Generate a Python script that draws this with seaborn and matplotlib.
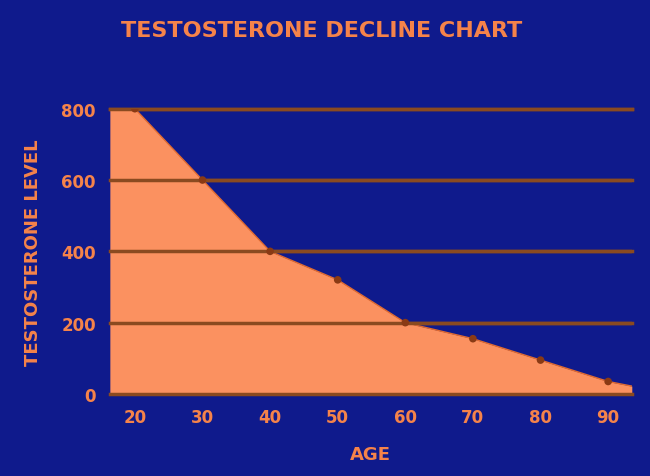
import matplotlib
matplotlib.use("Agg")
import matplotlib.pyplot as plt
import seaborn as sns
import pandas as pd

ages = [20, 30, 40, 50, 60, 70, 80, 90]
levels = [800, 600, 400, 320, 200, 155, 95, 35]
edge_ages = [16.3, 93.5]
edge_levels = [800, 22]

bg = "#0f1a8c"
orange = "#f5834a"
fill = "#fb9160"
grid = "#8a4a20"

df = pd.DataFrame({"age": ages, "level": levels})
area_x = [edge_ages[0]] + ages + [edge_ages[1]]
area_y = [edge_levels[0]] + levels + [edge_levels[1]]

fig = plt.figure(figsize=(6.5, 4.77), dpi=100, facecolor=bg)
ax = fig.add_axes([0.169, 0.172, 0.803, 0.61])
ax.set_facecolor(bg)
ax.set_xlim(edge_ages[0], edge_ages[1])
ax.set_ylim(0, 800)
ax.set_position([0.169, 0.172, 0.803, 0.598])
for y in [200, 400, 600, 800]:
    ax.axhline(y, color=grid, lw=2.5, zorder=1, clip_on=False, xmax=1.0)
ax.fill_between(area_x, area_y, color=fill, zorder=2, lw=0)
ax.plot(area_x, area_y, color="#e06a30", lw=1, zorder=3)
for y in [200, 400, 600]:
    ax.axhline(y, color=grid, lw=2.5, zorder=4)
ax.axhline(800, color=grid, lw=2.5, zorder=4, clip_on=False)
sns.scatterplot(data=df, x="age", y="level", ax=ax, color="#8a3a14", s=30,
                zorder=5, edgecolor="none")
for s in ["top", "right", "left"]:
    ax.spines[s].set_visible(False)
ax.spines["bottom"].set_color(grid)
ax.spines["bottom"].set_linewidth(2.5)
ax.set_xticks(ages)
ax.set_yticks([0, 200, 400, 600, 800])
ax.tick_params(length=0, colors=orange, labelsize=12, pad=10)
for t in ax.get_xticklabels() + ax.get_yticklabels():
    t.set_fontweight("bold")
ax.set_xlabel("AGE", color=orange, fontsize=13, fontweight="bold", labelpad=14)
ax.set_ylabel("TESTOSTERONE LEVEL", color=orange, fontsize=13, fontweight="bold", labelpad=14)
fig.text(0.495, 0.935, "TESTOSTERONE DECLINE CHART", color=orange, fontsize=16,
         fontweight="bold", ha="center", va="center")
fig.savefig("out.png", dpi=100, facecolor=bg)
